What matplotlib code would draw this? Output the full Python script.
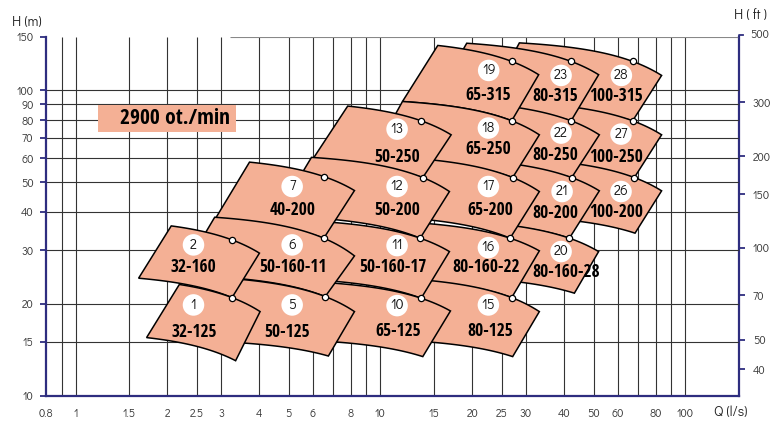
import numpy as np
import matplotlib
matplotlib.use("Agg")  # no display in the sandbox
import matplotlib.pyplot as plt
from matplotlib.patches import Rectangle
from matplotlib.ticker import NullLocator
from matplotlib.transforms import blended_transform_factory

# pump fields: Q in l/s, H in m
pump_no = [1, 2, 5, 6, 7, 10, 11, 12, 13, 15, 16, 17, 18, 19, 20, 21, 22, 23, 26, 27, 28]
pump_type = ["32-125", "32-160", "50-125", "50-160-11", "40-200", "65-125", "50-160-17",
             "50-200", "50-250", "80-125", "80-160-22", "65-200", "65-250", "65-315",
             "80-160-28", "80-200", "80-250", "80-315", "100-200", "100-250", "100-315"]
# left end of the top (max impeller) curve
q_top_left = [2.19, 2.06, 2.86, 2.86, 3.72, 5.85, 5.85, 5.94, 7.81, 11.54, 11.54, 11.99,
              11.81, 15.42, 23.65, 23.65, 23.65, 19.19, 37.2, 37.2, 28.56]
# point marked on the top curve
q_mark = [3.26, 3.26, 6.59, 6.52, 6.52, 13.6, 13.5, 13.77, 13.6, 26.95, 26.62, 27.15,
          26.95, 26.95, 41.66, 42.39, 42.2, 42.2, 68.05, 67.19, 67.19]
h_mark = [20.96, 32.39, 21.12, 32.81, 52.24, 20.86, 32.81, 51.84, 79.55, 20.96, 32.81, 51.84,
          79.55, 124.5, 32.81, 51.84, 79.55, 124.5, 51.84, 79.55, 124.5]
# right end of top curve
q_top_right = [4.03, 4.01, 8.22, 8.22, 8.22, 16.97, 16.84, 16.84, 17.06, 33.21, 33.21, 33.21,
               33.21, 33.04, 51.96, 52.24, 52.24, 51.96, 83.61, 83.61, 83.61]
h_top_right = [18.86, 29.31, 18.86, 28.71, 47.0, 18.95, 29.66, 46.65, 71.56, 18.86, 29.82, 46.65,
               71.56, 112.6, 29.66, 46.9, 71.56, 112.6, 46.9, 71.56, 112.0]
# bottom (min impeller) curve ends
q_bot_right = [3.35, 3.26, 6.75, 6.59, 6.52, 13.77, 13.6, 13.5, 13.77, 27.15, 26.95, 26.62,
               27.15, 26.95, 43.27, 41.66, 42.39, 42.2, 68.41, 68.05, 67.19]
h_bot_right = [13.02, 20.96, 13.49, 21.12, 32.81, 13.43, 20.86, 32.81, 51.84, 13.43, 20.96, 32.81,
               51.84, 79.55, 21.67, 32.81, 51.84, 79.55, 34.08, 51.84, 79.55]
q_bot_left = [1.71, 1.61, 2.24, 2.21, 2.86, 4.56, 4.56, 4.56, 5.93, 9.07, 9.07, 9.34,
              9.34, 11.81, 18.86, 18.44, 18.44, 14.7, 29.66, 28.99, 22.27]
h_bot_left = [15.5, 24.26, 15.2, 24.87, 37.69, 15.34, 24.32, 38.84, 58.51, 15.37, 24.32, 38.84,
              60.16, 92.0, 24.39, 37.12, 57.07, 89.77, 38.6, 57.07, 89.77]
# where the number and the type are written
q_num = [2.437, 2.437, 5.134, 5.134, 5.134, 11.34, 11.34, 11.34, 11.34, 22.6, 22.6, 22.6,
         22.6, 22.65, 39.13, 39.43, 39.13, 39.13, 61.54, 61.54, 61.7]
h_num = [19.83, 31.19, 19.83, 31.19, 48.45, 19.73, 31.03, 48.45, 74.7, 19.83, 30.56, 48.45,
         75.3, 116.3, 29.66, 46.65, 72.5, 112.0, 46.65, 71.95, 112.0]
q_type = [2.456, 2.437, 4.944, 5.157, 5.157, 11.4, 10.97, 11.31, 11.31, 22.89, 22.21, 22.89,
          22.6, 22.65, 40.63, 37.48, 37.48, 37.48, 59.27, 59.27, 59.27]
h_type = [16.21, 26.37, 16.21, 26.37, 40.63, 16.3, 26.49, 40.63, 60.49, 16.3, 26.49, 40.63,
          64.41, 96.8, 25.38, 39.63, 61.54, 95.6, 40.11, 60.76, 95.6]

x_ticks = [0.8, 1, 1.5, 2, 2.5, 3, 4, 5, 6, 8, 10, 15, 20, 25, 30, 40, 50, 60, 80, 100]
x_grid = [0.9, 1, 1.5, 2, 2.5, 3, 4, 5, 6, 7, 8, 9, 10, 15, 20, 25, 30, 40, 50, 60, 70, 80, 90, 100]
y_ticks = [10, 15, 20, 30, 40, 50, 60, 70, 80, 90, 100, 150]
y_grid = [15, 20, 30, 40, 50, 60, 70, 80, 90, 100]
ft_ticks = [40, 50, 70, 100, 150, 200, 300]
M_TO_FT = 3.28084

NAVY = '#2E2D7F'
PEACH = '#F4B095'
NARROW = ['Open Sans Condensed', 'IBM Plex Sans Condensed', 'DejaVu Sans']
GOTHIC = ['Didact Gothic', 'Questrial', 'DejaVu Sans']


def fmt(v):
    return ('%g' % v)


def pump_curve(q_from, q_to, qa, ha, qb, hb, n=40):
    # H = a - b*Q^2 through the two given points
    b = (ha - hb) / (qb ** 2 - qa ** 2)
    a = ha + b * qa ** 2
    q = np.geomspace(q_from, q_to, n)
    return q, a - b * q ** 2


fig = plt.figure(figsize=(7.73, 4.21), dpi=100)
ax = fig.add_axes([46 / 773, 25.3 / 421, 693 / 773, 359 / 421])
ax.set_xscale('log')
ax.set_yscale('log')
ax.set_xlim(0.8, 150)
ax.set_ylim(10, 150)

# grid
ax.vlines(x_grid, 10, 150, colors='#333333', lw=0.8, zorder=1)
ax.hlines(y_grid, 0.8, 150, colors='#333333', lw=0.8, zorder=1)
ax.hlines(150, 3.2, 150, colors='#888888', lw=0.8, zorder=1)

# tiles, higher numbers underneath
order = sorted(range(len(pump_no)), key=lambda i: -pump_no[i])
for i in order:
    qt, ht = pump_curve(q_top_left[i], q_top_right[i], q_mark[i], h_mark[i],
                        q_top_right[i], h_top_right[i])
    qb, hb = pump_curve(q_bot_right[i], q_bot_left[i], q_bot_left[i], h_bot_left[i],
                        q_bot_right[i], h_bot_right[i])
    qs = np.concatenate([qt, qb])
    hs = np.concatenate([ht, hb])
    ax.fill(qs, hs, facecolor=PEACH, edgecolor='black', lw=1.1, zorder=2)

ax.plot(q_mark, h_mark, 'o', ms=4.5, mfc='white', mec='black', mew=0.9, zorder=5)
ax.scatter(q_num, h_num, s=15.5 ** 2, c='white', edgecolors='none', zorder=6)
for i in range(len(pump_no)):
    ax.text(q_num[i], h_num[i], str(pump_no[i]), ha='center', va='center',
            fontsize=10, family=GOTHIC, color='#111111', zorder=7)
    ax.text(q_type[i], h_type[i], pump_type[i], ha='center', va='center',
            fontsize=12.5, fontweight='bold', family=NARROW, color='black', zorder=7)

# speed box
ax.add_patch(Rectangle((1.183, 73.05), 3.347 - 1.183, 89.8 - 73.05,
                       facecolor=PEACH, edgecolor='none', zorder=3))
ax.text(2.12, 80.95, '2900 ot./min', ha='center', va='center', fontsize=15.5,
        fontweight='bold', family=NARROW, color='black', zorder=4)

# axes styling
for s in ['top', 'right']:
    ax.spines[s].set_visible(False)
for s in ['left', 'bottom']:
    ax.spines[s].set_color(NAVY)
    ax.spines[s].set_linewidth(1.6)
    ax.spines[s].set_zorder(8)

ax.set_xticks(x_ticks)
ax.set_xticklabels([fmt(v) for v in x_ticks], family=GOTHIC)
ax.xaxis.set_minor_locator(NullLocator())
ax.set_yticks(y_ticks)
ax.set_yticklabels([fmt(v) for v in y_ticks], family=GOTHIC)
ax.yaxis.set_minor_locator(NullLocator())
ax.tick_params(axis='x', length=0, pad=9, labelsize=8, labelcolor='#333333')
ax.tick_params(axis='y', direction='out', length=4, width=1.3, color=NAVY,
               pad=5, labelsize=8, labelcolor='#333333')

sec = ax.secondary_yaxis('right', functions=(lambda m: m * M_TO_FT, lambda f: f / M_TO_FT))
sec.set_yticks(ft_ticks)
sec.set_yticklabels([fmt(v) for v in ft_ticks], family=GOTHIC)
sec.yaxis.set_minor_locator(NullLocator())
sec.tick_params(direction='out', length=4, width=1.3, color=NAVY, pad=6,
                labelsize=8, labelcolor='#333333')
sec.spines['right'].set_color(NAVY)
sec.spines['right'].set_linewidth(1.6)

# 500 ft sits just above the 150 m limit
tr = blended_transform_factory(ax.transAxes, ax.transData)
ax.plot([1, 1, 1.006], [150, 500 / M_TO_FT, 500 / M_TO_FT], color=NAVY, lw=1.3,
        transform=tr, clip_on=False, zorder=8)
ax.text(1.016, 500 / M_TO_FT, '500', transform=tr, ha='left', va='center',
        fontsize=8, family=GOTHIC, color='#333333', clip_on=False)

fig.text(27 / 773, 1 - 21 / 421, 'H (m)', ha='center', va='center', fontsize=10,
         family=GOTHIC, color='#222222')
fig.text(750 / 773, 1 - 15 / 421, 'H ( ft )', ha='center', va='center', fontsize=10,
         family=GOTHIC, color='#222222')
fig.text(731 / 773, 1 - 412 / 421, 'Q (l/s)', ha='center', va='center', fontsize=10,
         family=GOTHIC, color='#222222')

fig.savefig('out.png', dpi=100)
